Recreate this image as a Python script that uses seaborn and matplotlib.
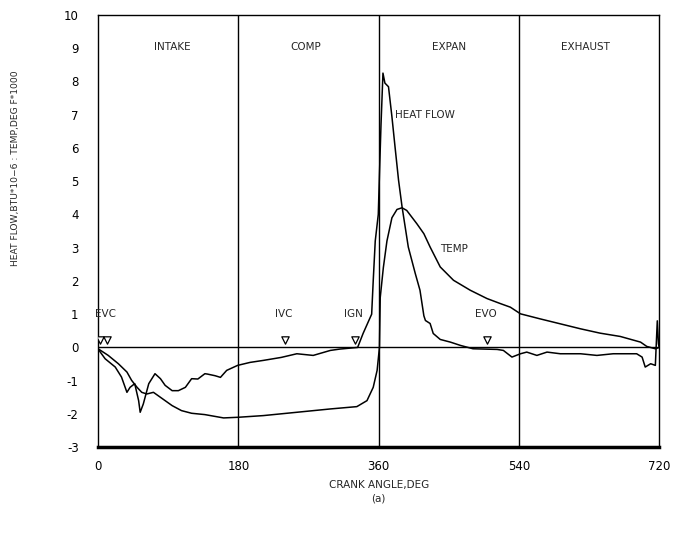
import matplotlib
matplotlib.use("Agg")
import matplotlib.pyplot as plt
import seaborn as sns
import pandas as pd
import numpy as np

# ---- data ----
heat_angle = [0, 9, 22, 30, 37, 41, 47, 52, 54, 58, 65, 73, 80, 86, 95, 103, 112, 120, 128,
              137, 140, 150, 157, 165, 179, 195, 212, 235, 255, 276, 298, 310, 319, 333,
              340, 351, 353, 355.6, 359.5, 361, 363, 365.5, 368, 372.6, 377, 381, 385.5,
              390, 398, 407, 413, 418, 420, 426, 430, 439, 452, 465, 481, 512, 520, 531,
              542, 550, 563, 576, 593, 619, 640, 661, 691, 698, 702, 709, 715, 716, 717.5,
              719, 720]
heat_flow = [-0.05, -0.34, -0.59, -0.89, -1.35, -1.2, -1.09, -1.6, -1.95, -1.7, -1.09, -0.79,
             -0.94, -1.14, -1.3, -1.3, -1.2, -0.94, -0.95, -0.79, -0.8, -0.85, -0.9, -0.69,
             -0.54, -0.45, -0.39, -0.3, -0.19, -0.24, -0.09, -0.05, -0.03, 0.0,
             0.42, 1.0, 2.0, 3.2, 4.0, 5.2, 6.7, 8.25, 7.95, 7.84, 6.94, 6.03, 5.03,
             4.23, 3.02, 2.22, 1.72, 0.95, 0.81, 0.72, 0.42, 0.24, 0.16, 0.06, -0.04, -0.06,
             -0.09, -0.29, -0.19, -0.14, -0.24, -0.14, -0.19, -0.19, -0.24, -0.19, -0.19,
             -0.29, -0.59, -0.49, -0.54, 0.0, 0.8, 0.1, 0.0]

temp_angle = [0, 13, 26, 37, 43, 50, 56, 62.5, 71, 77, 86, 95, 107, 120, 137, 161, 180, 212,
              255, 298, 332, 345, 353, 358, 361, 362, 366, 370.6, 377, 383.5, 390, 396, 409,
              418, 426, 439, 456, 477.5, 499, 516, 529, 542, 567, 593, 619, 644, 670, 696,
              704, 715, 720]
temp = [-0.04, -0.24, -0.49, -0.74, -0.99, -1.2, -1.35, -1.4, -1.35, -1.45, -1.6, -1.75, -1.9,
        -1.98, -2.02, -2.12, -2.1, -2.05, -1.95, -1.85, -1.78, -1.6, -1.2, -0.69, 0.0, 1.5,
        2.4, 3.2, 3.9, 4.15, 4.2, 4.12, 3.72, 3.42, 3.02, 2.42, 2.02, 1.72, 1.47, 1.32, 1.21,
        1.01, 0.86, 0.71, 0.56, 0.43, 0.33, 0.16, 0.03, -0.04, 0.0]

event_names = ["EVC", "IVC", "IGN", "EVO"]
event_label_angle = [10, 238, 328, 498]
marker_angle = [3, 11, 240, 330, 499]
marker_value = [0.22, 0.22, 0.22, 0.22, 0.22]

phase_names = ["INTAKE", "COMP", "EXPAN", "EXHAUST"]
phase_label_angle = [95, 266, 450, 625]
phase_bounds = [180, 360, 540]

x_ticks = [0, 180, 360, 540, 720]
y_ticks = list(range(-3, 11))

# ---- plotting ----
sns.set_style("white")
plt.rcParams["font.family"] = ["DejaVu Sans"]

fig = plt.figure(figsize=(6.86, 5.33), dpi=100)
ax = fig.add_axes([0.143, 0.161, 0.818, 0.811])

df_heat = pd.DataFrame({"angle": heat_angle, "value": heat_flow})
df_temp = pd.DataFrame({"angle": temp_angle, "value": temp})
sns.lineplot(data=df_heat, x="angle", y="value", ax=ax, color="black", lw=1.1,
             sort=False, estimator=None)
sns.lineplot(data=df_temp, x="angle", y="value", ax=ax, color="black", lw=1.1,
             sort=False, estimator=None)

for b in phase_bounds:
    ax.axvline(b, color="black", lw=1.0)
ax.axhline(0, color="black", lw=1.0)

df_mark = pd.DataFrame({"angle": marker_angle, "value": marker_value})
sns.scatterplot(data=df_mark, x="angle", y="value", ax=ax, marker="v", s=28,
                facecolor="white", edgecolor="black", linewidth=0.9, zorder=5)

fs = 7.5
for name, a in zip(event_names, event_label_angle):
    ax.text(a, 1.0, name, ha="center", va="center", fontsize=fs)
for name, a in zip(phase_names, phase_label_angle):
    ax.text(a, 9.05, name, ha="center", va="center", fontsize=fs)
ax.text(420, 7.0, "HEAT FLOW", ha="center", va="center", fontsize=fs)
ax.text(457, 2.95, "TEMP", ha="center", va="center", fontsize=fs)

ax.set_xlim(0, 720)
ax.set_ylim(-3, 10)
ax.set_xticks(x_ticks)
ax.set_yticks(y_ticks)
ax.set_yticklabels([str(v) for v in y_ticks])
ax.tick_params(axis="both", direction="out", length=4, width=1.0, labelsize=8.5,
               colors="black")
ax.tick_params(axis="y", pad=10)
ax.tick_params(axis="x", pad=5)
for s in ["left", "right", "top"]:
    ax.spines[s].set_color("black")
    ax.spines[s].set_linewidth(1.0)
ax.spines["bottom"].set_color("black")
ax.spines["bottom"].set_linewidth(2.5)

ax.set_xlabel("CRANK ANGLE,DEG", fontsize=7.5, labelpad=5)
ax.set_ylabel("HEAT FLOW,BTU*10\u22126 : TEMP,DEG F*1000", fontsize=6.6)
ax.yaxis.set_label_coords(-0.139, 0.646)
fig.text(0.143 + 0.818 * 0.5, 0.065, "(a)", ha="center", va="center", fontsize=7.5)

fig.savefig("out.png", dpi=100)
